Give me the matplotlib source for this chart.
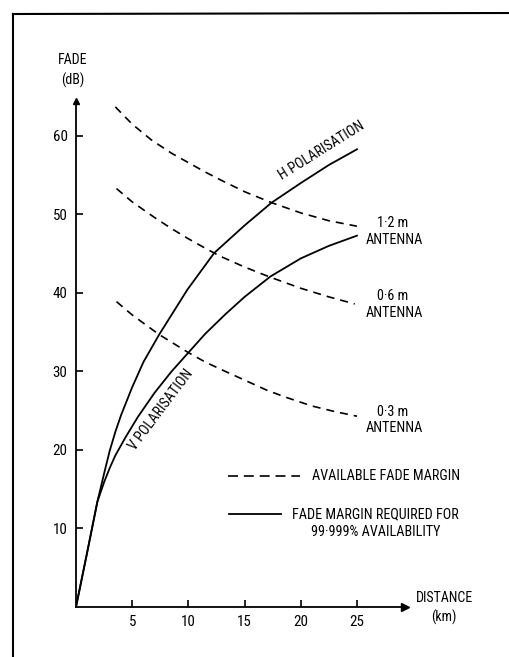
import matplotlib
matplotlib.use("Agg")
import matplotlib.pyplot as plt
from matplotlib.lines import Line2D
from matplotlib import font_manager

# values (distance in km, fade in dB)
h_km = [0, 1.0, 1.9, 2.5, 3.0, 3.5, 4.0, 5.0, 6.0, 7.4, 9.9, 12.3, 15.0, 17.4, 20.0, 22.5, 25.0]
h_db = [0, 7.0, 13.4, 17.0, 19.9, 22.3, 24.4, 28.0, 31.2, 34.7, 40.4, 45.1, 48.6, 51.5, 54.0, 56.3, 58.3]

v_km = [0, 1.0, 1.9, 2.5, 3.0, 3.5, 4.4, 5.5, 7.0, 8.5, 10.0, 11.5, 13.3, 15.0, 17.3, 20.0, 22.5, 25.0]
v_db = [0, 7.0, 13.4, 15.9, 17.7, 19.3, 21.6, 24.2, 27.3, 30.0, 32.4, 34.8, 37.3, 39.5, 42.1, 44.4, 46.0, 47.3]

ant12_km = [3.5, 5.0, 6.7, 8.5, 10.0, 11.5, 13.0, 15.0, 17.4, 20.0, 22.5, 25.0]
ant12_db = [63.7, 61.5, 59.5, 57.8, 56.6, 55.4, 54.3, 52.9, 51.5, 50.2, 49.2, 48.5]

ant06_km = [3.6, 5.0, 7.0, 8.5, 10.0, 11.5, 12.8, 15.0, 17.3, 20.0, 22.5, 24.8]
ant06_db = [53.3, 51.6, 49.6, 48.2, 46.9, 45.7, 44.7, 43.3, 42.0, 40.6, 39.5, 38.6]

ant03_km = [3.6, 5.0, 7.4, 10.0, 11.5, 13.3, 15.0, 17.0, 18.7, 21.0, 23.0, 25.0]
ant03_db = [38.9, 37.2, 34.7, 32.4, 31.2, 30.0, 28.9, 27.6, 26.7, 25.6, 24.9, 24.3]

x_ticks = [5, 10, 15, 20, 25]
y_ticks = [10, 20, 30, 40, 50, 60]

W, H = 510, 657

# a narrow face if one is around, else plain DejaVu
names = {f.name for f in font_manager.fontManager.ttflist}
FONT = [n for n in ["Liberation Sans Narrow", "Roboto Condensed", "Open Sans Condensed"] if n in names]
FONT += ["DejaVu Sans"]
plt.rcParams["font.family"] = FONT
plt.rcParams["font.stretch"] = "condensed"
NARROW = FONT[0] != "DejaVu Sans"
FS = 10 if NARROW else 9
FS_TICK = FS + 0.8
FS_LAB = FS + 0.2


def fp(x, y):
    # pixel position -> figure fraction
    return x / W, 1 - y / H


fig = plt.figure(figsize=(W / 100, H / 100), dpi=100)
fig.patch.set_facecolor("white")

ax = fig.add_axes([76 / W, (H - 607) / H, 329.3 / W, 505.6 / H])
ax.set_xlim(0, 29.3)
ax.set_ylim(0, 64.4)
ax.set_facecolor("none")

for s in ["top", "right"]:
    ax.spines[s].set_visible(False)
for s in ["left", "bottom"]:
    ax.spines[s].set_linewidth(1.3)

ax.plot(1, 0, ">k", ms=6, transform=ax.get_yaxis_transform(), clip_on=False)
ax.plot(0, 1, "^k", ms=4, transform=ax.get_xaxis_transform(), clip_on=False)

ax.set_xticks(x_ticks)
ax.set_yticks(y_ticks)
ax.tick_params(direction="in", length=5, width=1.2, labelsize=FS_TICK, pad=6)

dash = (0, (4.8, 3.6))
lw_d = 1.2
ax.plot(ant12_km, ant12_db, color="black", lw=lw_d, linestyle=dash)
ax.plot(ant06_km, ant06_db, color="black", lw=lw_d, linestyle=dash)
ax.plot(ant03_km, ant03_db, color="black", lw=lw_d, linestyle=dash)
ax.plot(h_km, h_db, color="black", lw=1.3)
ax.plot(v_km, v_db, color="black", lw=1.3)

# axis titles
fig.text(*fp(73, 60), "FADE", ha="center", va="center", fontsize=FS)
fig.text(*fp(73, 80), "(dB)", ha="center", va="center", fontsize=FS)
fig.text(*fp(444, 598), "DISTANCE", ha="center", va="center", fontsize=FS)
fig.text(*fp(444, 617), "(km)", ha="center", va="center", fontsize=FS)

# curve labels
lab = dict(ha="center", va="center", fontsize=FS_LAB)
fig.text(*fp(393, 223), "1·2 m", **lab)
fig.text(*fp(394, 240), "ANTENNA", **lab)
fig.text(*fp(393, 296), "0·6 m", **lab)
fig.text(*fp(394, 313), "ANTENNA", **lab)
fig.text(*fp(393, 412), "0·3 m", **lab)
fig.text(*fp(394, 428), "ANTENNA", **lab)
fig.text(*fp(322, 151), "H POLARISATION", rotation=32, rotation_mode="anchor", **lab)
fig.text(*fp(161, 410), "V POLARISATION", rotation=53, rotation_mode="anchor", **lab)

# legend
fig.add_artist(Line2D([228 / W, 300 / W], [1 - 476 / H] * 2, color="black", lw=1.2,
                      linestyle=(0, (6, 3.5))))
fig.text(*fp(312, 476), "AVAILABLE FADE MARGIN", ha="left", va="center", fontsize=FS_LAB)
fig.add_artist(Line2D([229 / W, 281 / W], [1 - 514 / H] * 2, color="black", lw=1.3))
fig.text(*fp(292, 514), "FADE MARGIN REQUIRED FOR", ha="left", va="center", fontsize=FS_LAB)
fig.text(*fp(376, 532), "99·999% AVAILABILITY", ha="center", va="center", fontsize=FS_LAB)

# frame of the scanned figure
fig.add_artist(Line2D([13 / W, 13 / W], [0, 1 - 14 / H], color="black", lw=1.5))
fig.add_artist(Line2D([13 / W, 1], [1 - 14 / H, 1 - 13 / H], color="black", lw=1.5))

fig.savefig("out.png", dpi=100, facecolor="white")
